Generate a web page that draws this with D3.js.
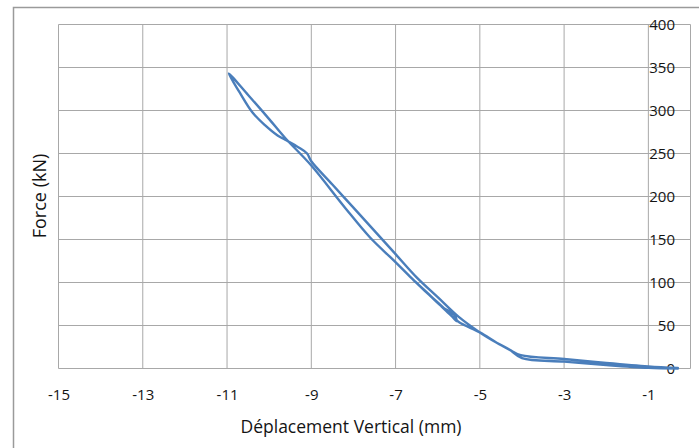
<!DOCTYPE html>
<html>
<head>
<meta charset="utf-8">
<script src="https://cdn.jsdelivr.net/npm/d3@7"></script>
<style>
  html, body { margin: 0; padding: 0; background: #fff; }
  svg { display: block; }
  text { font-family: "Open Sans", "Noto Sans", sans-serif; fill: #141414; }
</style>
</head>
<body>
<script>
// ---- data ----
const displacement = [
  -0.3, -1.0, -2.0, -3.0, -4.0,
  -4.3, -4.6, -5.0, -5.5, -6.0, -6.5, -7.0, -7.5, -8.0, -8.5, -9.0,
  -9.1,
  -9.3, -9.62, -9.8, -10.1, -10.4, -10.7, -10.96,
  -10.5, -10.0, -9.62, -9.0, -8.2, -7.6, -7.05, -6.62,
  -6.3, -6.0, -5.7, -5.55, -5.6, -5.9, -6.25, -6.58, -6.2, -5.8, -5.5,
  -5.0, -4.6, -4.3, -4.03, -3.0, -2.0, -1.0, -0.3
];
const force = [
  0, 0.8, 4, 8, 12,
  22, 30, 42, 60, 83, 106, 133, 160, 187, 214, 241,
  250,
  257, 266, 271, 283, 298, 321, 343,
  318, 290, 268, 236, 187, 152, 126, 105,
  90, 77, 63, 55, 62, 72, 88, 103, 86, 67, 54,
  42, 30, 22, 15.5, 11, 6.5, 2.5, 0.5
];
const xTicks = [-15, -13, -11, -9, -7, -5, -3, -1];
const yTicks = [0, 50, 100, 150, 200, 250, 300, 350, 400];
const xLabel = "Déplacement Vertical (mm)";
const yLabel = "Force (kN)";

// ---- layout ----
const W = 699, H = 448;
const svg = d3.select("body").append("svg").attr("width", W).attr("height", H);

// outer chart border
svg.append("rect").attr("x", 13.5).attr("y", 7.5).attr("width", 700).attr("height", 460)
  .attr("fill", "#fff").attr("stroke", "#9a9a9a").attr("stroke-width", 1.5);

const x = d3.scaleLinear().domain([-15, 0]).range([58.5, 690.5]);
const y = d3.scaleLinear().domain([0, 400]).range([368.5, 24.5]);

const grid = svg.append("g");
grid.selectAll("line.h").data(yTicks).join("line")
  .attr("x1", x(-15)).attr("x2", x(0))
  .attr("y1", d => y(d)).attr("y2", d => y(d))
  .attr("stroke", "#a8a8a8").attr("stroke-width", 1);
grid.selectAll("line.v").data(xTicks.concat([0])).join("line")
  .attr("x1", d => x(d)).attr("x2", d => x(d))
  .attr("y1", y(0)).attr("y2", y(400))
  .attr("stroke", "#a8a8a8").attr("stroke-width", 1);

const fmt = d => String(d);

// x axis labels
const xAxis = d3.axisBottom(x).tickValues(xTicks).tickSize(0).tickPadding(21).tickFormat(fmt);
const gx = svg.append("g").attr("transform", `translate(0,${y(0)})`).call(xAxis);
gx.select(".domain").remove();
gx.selectAll("text").style("font-size", "15px").attr("fill", "#141414")
  .style("font-family", '"Open Sans", sans-serif');

// y axis labels (right-aligned just inside right edge)
const yAxis = d3.axisLeft(y).tickValues(yTicks).tickSize(0).tickPadding(0).tickFormat(fmt);
const gy = svg.append("g").attr("transform", `translate(675,0)`).call(yAxis);
gy.select(".domain").remove();
gy.selectAll("text").style("font-size", "15px").attr("fill", "#141414")
  .style("font-family", '"Open Sans", sans-serif');

// curve
const pts = displacement.map((d, i) => [d, force[i]]);
const line = d3.line().x(d => x(d[0])).y(d => y(d[1])).curve(d3.curveCatmullRom.alpha(0.5));
svg.append("path").datum(pts).attr("d", line)
  .attr("fill", "none").attr("stroke", "#4a7ebb").attr("stroke-width", 2.4)
  .attr("stroke-linejoin", "round").attr("stroke-linecap", "round");

// titles
svg.append("text").attr("x", 351).attr("y", 433).attr("text-anchor", "middle")
  .style("font-size", "17.5px").text(xLabel);
svg.append("text").attr("transform", "translate(46,196) rotate(-90)").attr("text-anchor", "middle")
  .style("font-size", "18px").text(yLabel);
</script>
</body>
</html>
